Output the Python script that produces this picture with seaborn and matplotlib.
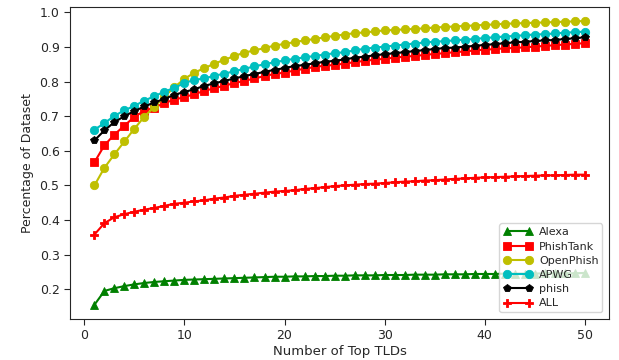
import numpy as np
import pandas as pd
import matplotlib
matplotlib.use("Agg")
import matplotlib.pyplot as plt
import seaborn as sns

top_n = list(range(1, 51))

alexa = [0.155, 0.195, 0.203, 0.209, 0.214, 0.218, 0.221, 0.223, 0.225, 0.227,
         0.228, 0.229, 0.230, 0.231, 0.232, 0.233, 0.234, 0.235, 0.236, 0.236,
         0.237, 0.237, 0.238, 0.238, 0.239, 0.239, 0.240, 0.240, 0.240, 0.241,
         0.241, 0.241, 0.242, 0.242, 0.242, 0.243, 0.243, 0.243, 0.244, 0.244,
         0.244, 0.245, 0.245, 0.245, 0.245, 0.246, 0.246, 0.246, 0.246, 0.247]

phishtank = [0.567, 0.616, 0.647, 0.673, 0.698, 0.716, 0.725, 0.738, 0.748, 0.755,
             0.764, 0.773, 0.781, 0.788, 0.796, 0.802, 0.809, 0.816, 0.822, 0.826,
             0.832, 0.837, 0.842, 0.846, 0.848, 0.852, 0.856, 0.860, 0.863, 0.866,
             0.869, 0.872, 0.874, 0.877, 0.880, 0.882, 0.885, 0.887, 0.890, 0.892,
             0.894, 0.896, 0.897, 0.899, 0.901, 0.903, 0.905, 0.907, 0.909, 0.911]

openphish = [0.500, 0.551, 0.590, 0.627, 0.664, 0.699, 0.727, 0.757, 0.784, 0.808,
             0.826, 0.839, 0.852, 0.863, 0.874, 0.884, 0.890, 0.897, 0.904, 0.909,
             0.914, 0.919, 0.923, 0.928, 0.932, 0.936, 0.940, 0.942, 0.945, 0.948,
             0.949, 0.951, 0.952, 0.954, 0.956, 0.958, 0.959, 0.961, 0.962, 0.964,
             0.965, 0.967, 0.968, 0.969, 0.970, 0.971, 0.972, 0.973, 0.974, 0.975]

apwg = [0.661, 0.680, 0.701, 0.717, 0.730, 0.745, 0.758, 0.771, 0.782, 0.796,
        0.805, 0.809, 0.817, 0.823, 0.830, 0.837, 0.844, 0.850, 0.856, 0.861,
        0.866, 0.870, 0.874, 0.878, 0.882, 0.885, 0.890, 0.895, 0.898, 0.901,
        0.904, 0.907, 0.910, 0.913, 0.915, 0.917, 0.919, 0.921, 0.923, 0.926,
        0.928, 0.930, 0.932, 0.934, 0.936, 0.937, 0.939, 0.941, 0.943, 0.944]

phish = [0.630, 0.659, 0.683, 0.700, 0.715, 0.728, 0.740, 0.750, 0.762, 0.770,
         0.778, 0.788, 0.795, 0.802, 0.809, 0.816, 0.822, 0.828, 0.834, 0.839,
         0.845, 0.848, 0.853, 0.857, 0.860, 0.864, 0.869, 0.872, 0.876, 0.879,
         0.882, 0.885, 0.888, 0.891, 0.894, 0.897, 0.898, 0.901, 0.903, 0.906,
         0.908, 0.911, 0.913, 0.915, 0.917, 0.919, 0.920, 0.923, 0.925, 0.928]

all_sources = [0.358, 0.391, 0.408, 0.417, 0.424, 0.430, 0.435, 0.441, 0.447, 0.450,
               0.454, 0.457, 0.462, 0.465, 0.470, 0.473, 0.476, 0.479, 0.482, 0.484,
               0.486, 0.490, 0.492, 0.495, 0.498, 0.500, 0.502, 0.504, 0.505, 0.507,
               0.509, 0.511, 0.512, 0.514, 0.515, 0.517, 0.519, 0.520, 0.522, 0.523,
               0.524, 0.525, 0.526, 0.527, 0.528, 0.529, 0.529, 0.530, 0.531, 0.531]

series_names = ["Alexa", "PhishTank", "OpenPhish", "APWG", "phish", "ALL"]
series_values = [alexa, phishtank, openphish, apwg, phish, all_sources]
series_colors = ["g", "r", "y", "c", "k", "r"]
series_markers = ["^", "s", "o", "o", "p", "P"]

sns.set_style("ticks")
plt.rcParams["font.family"] = ["DejaVu Sans"]

fig = plt.figure(figsize=(6.19, 3.60), dpi=100)
ax = fig.add_axes([0.113, 0.114, 0.871, 0.867])

for name, vals, col, mk in zip(series_names, series_values, series_colors, series_markers):
    df = pd.DataFrame({"n": top_n, "v": vals})
    sns.lineplot(data=df, x="n", y="v", ax=ax, color=col, marker=mk,
                 markersize=6, markeredgecolor=col, markeredgewidth=0.6,
                 linewidth=1.5, label=name)

ax.set_xlabel("Number of Top TLDs", fontsize=9.5, labelpad=2)
ax.set_ylabel("Percentage of Dataset", fontsize=9, labelpad=4)
ax.set_xticks([0, 10, 20, 30, 40, 50])
ax.set_yticks([0.2, 0.3, 0.4, 0.5, 0.6, 0.7, 0.8, 0.9, 1.0])
ax.tick_params(labelsize=9, length=4)
ax.margins(x=0.05, y=0.05)

ax.legend(loc="lower right", fontsize=8, numpoints=2, frameon=True,
          framealpha=0.8, borderpad=0.35, labelspacing=0.38, handlelength=2.6,
          handletextpad=0.6, borderaxespad=0.6)

fig.savefig("out.png", dpi=100)
